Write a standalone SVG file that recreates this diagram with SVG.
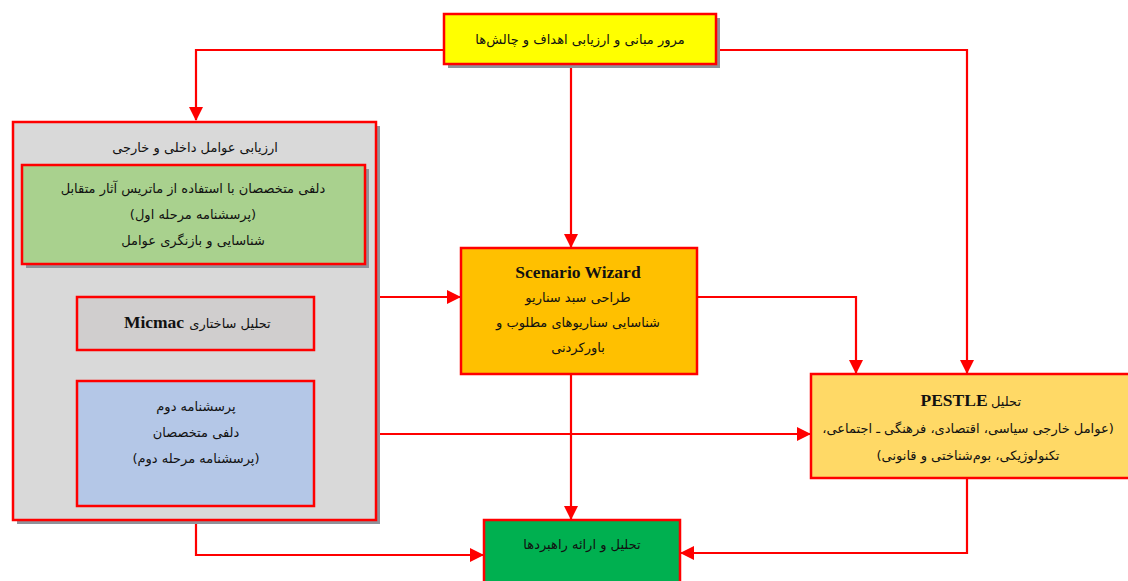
<svg xmlns="http://www.w3.org/2000/svg" width="1128" height="581" viewBox="0 0 1128 581">
<defs>
<marker id="ah" markerWidth="14" markerHeight="14" refX="13" refY="7" orient="auto" markerUnits="userSpaceOnUse" viewBox="0 0 14 14">
<path d="M0,0 L14,7 L0,14 Z" fill="#ff0000"/>
</marker>
<style>
.box{stroke:#ff0000;stroke-width:2.5}
.sh{fill:#8f939b}
.fa{font-family:"DejaVu Sans","Noto Sans",sans-serif;font-size:13px;fill:#111;text-anchor:middle;direction:rtl}
.lat{font-family:"Liberation Serif",serif;font-weight:bold;font-size:17.5px}
.con{fill:none;stroke:#ff0000;stroke-width:2.2}
</style>
</defs>
<rect width="1128" height="581" fill="#ffffff"/>
<g id="connectors">
<path class="con" d="M444,50 H196 V120" marker-end="url(#ah)"/>
<path class="con" d="M571,64 V247" marker-end="url(#ah)"/>
<path class="con" d="M716,50 H967 V373" marker-end="url(#ah)"/>
<path class="con" d="M376,297 H460" marker-end="url(#ah)"/>
<path class="con" d="M697,297 H856 V373" marker-end="url(#ah)"/>
<path class="con" d="M376,434 H810" marker-end="url(#ah)"/>
<path class="con" d="M571,374 V519" marker-end="url(#ah)"/>
<path class="con" d="M196,520 V555 H483" marker-end="url(#ah)"/>
<path class="con" d="M967,478 V553 H681" marker-end="url(#ah)"/>
</g>
<g id="top">
<rect class="sh" x="448" y="18" width="272" height="50"/>
<rect class="box" x="444" y="14" width="272" height="50" fill="#ffff00"/>
<text class="fa" x="580" y="44">مرور مبانی و ارزیابی اهداف و چالش‌ها</text>
</g>
<g id="outer">
<rect class="sh" x="17" y="126" width="363" height="398"/>
<rect class="box" x="13" y="122" width="363" height="398" fill="#d9d9d9"/>
<text class="fa" x="195" y="152">ارزیابی عوامل داخلی و خارجی</text>
</g>
<g id="delphi1">
<rect class="sh" x="26" y="169" width="343" height="99"/>
<rect class="box" x="22" y="165" width="343" height="99" fill="#a9d18e"/>
<text class="fa" x="193" y="193">دلفی متخصصان با استفاده از ماتریس آثار متقابل</text>
<text class="fa" x="193" y="219">(پرسشنامه مرحله اول)</text>
<text class="fa" x="193" y="245">شناسایی و بازنگری عوامل</text>
</g>
<g id="micmac">
<rect class="box" x="77" y="297" width="237" height="53" fill="#d0cece"/>
<text class="fa" x="230" y="328">تحلیل ساختاری</text>
<text class="fa lat" x="154" y="328">Micmac</text>
</g>
<g id="delphi2">
<rect class="box" x="77" y="381" width="237" height="125" fill="#b4c7e7"/>
<text class="fa" x="196" y="411">پرسشنامه دوم</text>
<text class="fa" x="196" y="437">دلفی متخصصان</text>
<text class="fa" x="196" y="463">(پرسشنامه مرحله دوم)</text>
</g>
<g id="scenario">
<rect class="box" x="461" y="248" width="236" height="126" fill="#ffc000"/>
<text class="fa lat" x="578" y="278" style="direction:ltr">Scenario Wizard</text>
<text class="fa" x="578" y="302">طراحی سبد سناریو</text>
<text class="fa" x="578" y="327">شناسایی سناریوهای مطلوب و</text>
<text class="fa" x="578" y="352">باورکردنی</text>
</g>
<g id="pestle">
<rect class="box" x="811" y="374" width="330" height="104" fill="#ffd966"/>
<text class="fa" x="1006" y="406">تحلیل</text>
<text class="fa lat" x="954" y="406">PESTLE</text>
<text class="fa" x="968" y="433">(عوامل خارجی سیاسی، اقتصادی، فرهنگی ـ اجتماعی،</text>
<text class="fa" x="968" y="460">تکنولوژیکی، بوم‌شناختی و قانونی)</text>
</g>
<g id="result">
<rect class="box" x="484" y="520" width="196" height="70" fill="#00b050"/>
<text class="fa" x="582" y="549">تحلیل و ارائه راهبردها</text>
</g>
</svg>
